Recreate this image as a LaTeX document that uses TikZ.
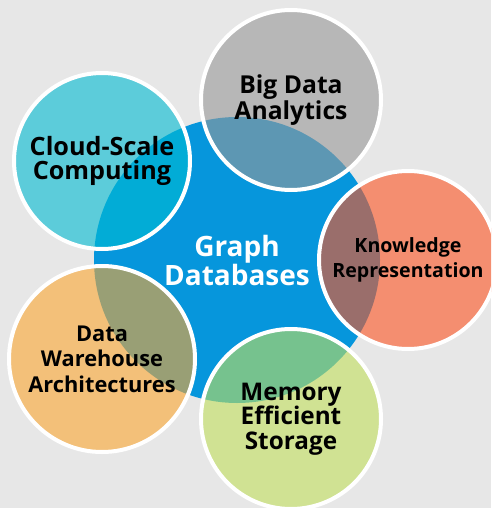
\documentclass[tikz,border=0pt]{standalone}
\usepackage{fontspec}
\setmainfont{Open Sans}
\definecolor{bgc}{HTML}{E7E7E7}
\definecolor{hubc}{RGB}{6,150,220}
\definecolor{grayc}{RGB}{152,152,152}
\definecolor{cyanc}{RGB}{0,187,210}
\definecolor{salmonc}{RGB}{253,84,33}
\definecolor{orangec}{RGB}{251,166,49}
\definecolor{greenc}{RGB}{193,224,91}
\begin{document}
\begin{tikzpicture}[x=1pt,y=-1pt,
  bubble/.style={circle, draw=white, line width=4pt, fill opacity=0.6, text opacity=1,
    inner sep=0pt, align=center, text=black},
  hub/.style={circle, fill=hubc, inner sep=0pt, minimum size=286pt, align=center,
    text=white, font=\bfseries\fontsize{28}{29}\selectfont}]
\useasboundingbox (0,0) rectangle (491,508);
\clip (0,0) rectangle (491,508);
\fill[bgc] (0,0) rectangle (491,508);
\node[hub] (graph) at (237,260) {Graph\\Databases};
\node[bubble, fill=grayc, minimum size=180pt, font=\bfseries\fontsize{24.7}{24}\selectfont] (bigdata) at (291,100) {Big Data\\Analytics};
\node[bubble, fill=cyanc, minimum size=176pt, font=\bfseries\fontsize{25.2}{24.5}\selectfont] (cloud) at (102,161) {Cloud-Scale\\Computing};
\node[bubble, fill=salmonc, minimum size=178pt, font=\bfseries\fontsize{19.6}{25}\selectfont] (knowledge) at (408,260) {Knowledge\\Representation};
\node[bubble, fill=orangec, minimum size=186pt, font=\bfseries\fontsize{21.8}{25.5}\selectfont] (warehouse) at (102,359) {Data\\Warehouse\\Architectures};
\node[bubble, fill=greenc, minimum size=180pt, font=\bfseries\fontsize{24.3}{24.5}\selectfont] (memory) at (291,419) {Memory\\Efficient\\Storage};
\end{tikzpicture}
\end{document}
